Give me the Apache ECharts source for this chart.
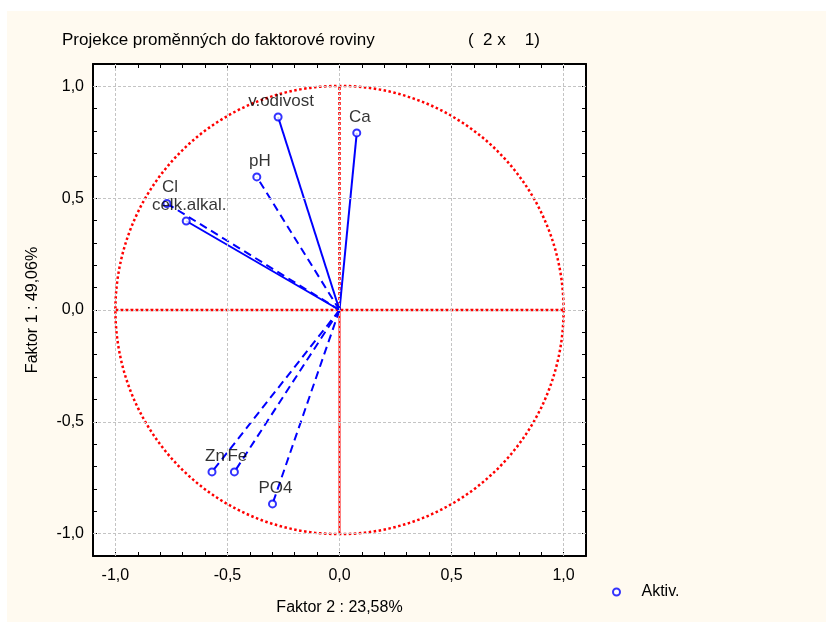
<!DOCTYPE html>
<html>
<head>
<meta charset="utf-8">
<script src="https://cdn.jsdelivr.net/npm/echarts@6/dist/echarts.min.js"></script>
<style>
  body { margin: 0; background: #ffffff; }
  #bg { position: absolute; left: 7px; top: 11px; width: 819px; height: 611px; background: #fffaf0; }
  #chart { position: absolute; left: 0; top: 0; width: 826px; height: 622px; }
</style>
</head>
<body>
<div id="bg"></div>
<div id="chart"></div>
<script>
// variable projections (Faktor 2 on x, Faktor 1 on y)
var varNames = ['v.odivost', 'Ca', 'pH', 'Cl', 'celk.alkal.', 'Zn', 'Fe', 'PO4'];
var factor2 = [-0.274, 0.077, -0.369, -0.770, -0.684, -0.569, -0.469, -0.299];
var factor1 = [0.863, 0.792, 0.595, 0.476, 0.398, -0.724, -0.724, -0.867];
var lineKinds = ['solid', 'solid', 'dashed', 'dashed', 'solid', 'dashed', 'dashed', 'dashed'];
var gridValues = [-1, -0.5, 0, 0.5, 1];
var circleRadius = [1];

var FONT = 'Liberation Sans, Arial, sans-serif';
var BLUE = '#0000ff';
var RED = '#ff0000';
var INK = '#000000';

function tickLabel(v) {
    if (Math.abs(v * 2 - Math.round(v * 2)) > 1e-6) return '';
    var s = (Math.round(v * 10) / 10).toFixed(1);
    if (s === '-0.0') s = '0.0';
    return s.replace('.', ',');
}

var myChart = echarts.init(document.getElementById('chart'));

var series = [];

// gray grid lines at the 0.5 marks
series.push({
    type: 'line',
    data: [],
    silent: true,
    z: 1,
    markLine: {
        silent: true,
        symbol: 'none',
        animation: false,
        label: { show: false },
        lineStyle: { color: '#c4c4c4', type: [3, 2], width: 1 },
        data: gridValues.map(function (v) { return { xAxis: v }; })
            .concat(gridValues.map(function (v) { return { yAxis: v }; }))
    }
});

// unit circle
series.push({
    type: 'custom',
    silent: true,
    z: 2,
    data: circleRadius.map(function (r) { return [0, 0, r]; }),
    renderItem: function (params, api) {
        var c = api.coord([api.value(0), api.value(1)]);
        var r = api.size([api.value(2), api.value(2)]);
        return {
            type: 'circle',
            shape: { cx: c[0], cy: c[1], r: r[0] },
            style: { fill: null, stroke: RED, lineWidth: 2.5, lineDash: [2.5, 2.5] }
        };
    }
});

// red cross
series.push({
    type: 'line', silent: true, symbol: 'none', z: 3,
    data: [[-circleRadius[0], 0], [circleRadius[0], 0]],
    lineStyle: { color: RED, width: 2.5, type: [3, 2] }
});
series.push({
    type: 'line', silent: true, symbol: 'none', z: 3,
    data: [[0, 0], [0, circleRadius[0]]],
    lineStyle: { color: RED, width: 2.5, type: [3, 2] }
});
series.push({
    type: 'line', silent: true, symbol: 'none', z: 3,
    data: [[0, -circleRadius[0]], [0, 0]],
    lineStyle: { color: RED, width: 2 }
});

// vectors from origin
varNames.forEach(function (n, i) {
    series.push({
        type: 'line', silent: true, symbol: 'none', z: 4,
        data: [[0, 0], [factor2[i], factor1[i]]],
        lineStyle: { color: BLUE, width: 2, type: lineKinds[i] === 'dashed' ? [8, 5] : 'solid' }
    });
});

// end points
series.push({
    name: 'Aktiv.',
    type: 'scatter',
    z: 5,
    symbol: 'emptyCircle',
    symbolSize: 7,
    itemStyle: { color: BLUE, borderColor: BLUE, borderWidth: 1 },
    data: varNames.map(function (n, i) { return { name: n, value: [factor2[i], factor1[i]] }; }),
    label: {
        show: true,
        position: 'top',
        distance: 3,
        offset: [3, 0],
        formatter: '{b}',
        color: INK,
        fontSize: 17,
        fontFamily: FONT
    }
});

function xAxisCfg(pos) {
    return {
        type: 'value', position: pos, min: -1.1, max: 1.1, interval: 0.1,
        axisLine: { show: true, onZero: false, lineStyle: { color: '#000', width: 2 } },
        axisTick: { show: true, inside: true, length: 4, lineStyle: { color: '#000', width: 1 } },
        axisLabel: {
            show: pos === 'bottom', formatter: tickLabel, margin: 12,
            color: INK, fontSize: 16, fontFamily: FONT,
            showMinLabel: true, showMaxLabel: true
        },
        splitLine: { show: false },
        name: pos === 'bottom' ? 'Faktor 2 : 23,58%' : '',
        nameLocation: 'middle', nameGap: 44,
        nameTextStyle: { color: INK, fontSize: 16, fontFamily: FONT }
    };
}
function yAxisCfg(pos) {
    return {
        type: 'value', position: pos, min: -1.1, max: 1.1, interval: 0.1,
        axisLine: { show: true, onZero: false, lineStyle: { color: '#000', width: 2 } },
        axisTick: { show: true, inside: true, length: 4, lineStyle: { color: '#000', width: 1 } },
        axisLabel: {
            show: pos === 'left', formatter: tickLabel, margin: 9,
            color: INK, fontSize: 16, fontFamily: FONT
        },
        splitLine: { show: false },
        name: pos === 'left' ? 'Faktor 1 : 49,06%' : '',
        nameLocation: 'middle', nameGap: 52,
        nameTextStyle: { color: INK, fontSize: 16, fontFamily: FONT }
    };
}

myChart.setOption({
    animation: false,
    backgroundColor: 'transparent',
    title: [
        { text: 'Projekce proměnných do faktorové roviny', left: 57, top: 27,
          textStyle: { color: INK, fontSize: 17, fontWeight: 'normal', fontFamily: FONT } },
        { text: '(  2 x    1)', left: 463, top: 27,
          textStyle: { color: INK, fontSize: 17, fontWeight: 'normal', fontFamily: FONT } }
    ],
    grid: {
        left: 93, top: 64, width: 493, height: 492,
        show: true, backgroundColor: '#ffffff', borderWidth: 0
    },
    legend: {
        data: ['Aktiv.'],
        left: 607, top: 579,
        itemWidth: 40, itemHeight: 7,
        textStyle: { color: INK, fontSize: 16, fontFamily: FONT }
    },
    xAxis: [xAxisCfg('bottom'), xAxisCfg('top')],
    yAxis: [yAxisCfg('left'), yAxisCfg('right')],
    series: series
});
</script>
</body>
</html>
